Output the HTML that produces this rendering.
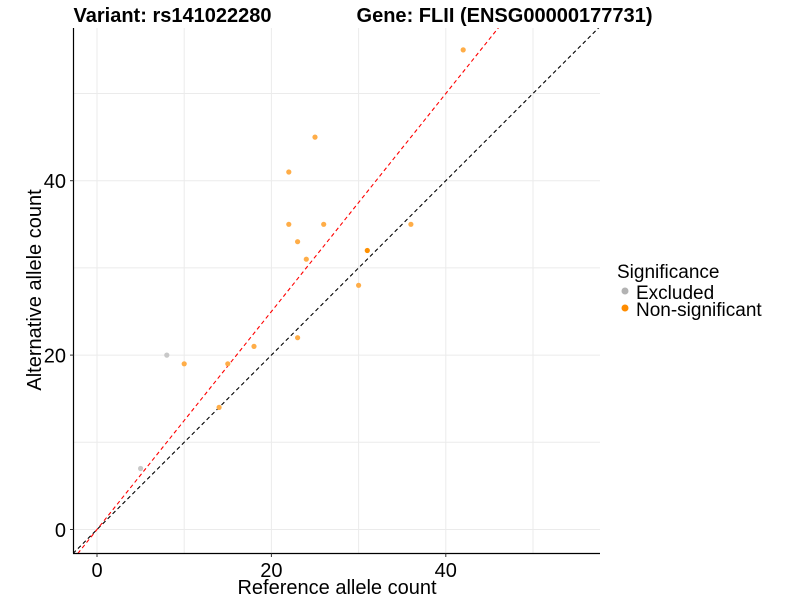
<!DOCTYPE html>
<html><head><meta charset="utf-8"><style>body{margin:0;background:#fff}svg{display:block}text{font-family:"Liberation Sans",Arial,sans-serif}</style></head>
<body>
<svg width="800" height="600" xmlns="http://www.w3.org/2000/svg">
<defs><clipPath id="c"><rect x="73.5" y="28" width="526.5" height="525"/></clipPath></defs>
<g stroke="#ebebeb" stroke-width="1">
<line x1="97" y1="28" x2="97" y2="553"/><line x1="184.2" y1="28" x2="184.2" y2="553"/><line x1="271.4" y1="28" x2="271.4" y2="553"/><line x1="358.6" y1="28" x2="358.6" y2="553"/><line x1="445.8" y1="28" x2="445.8" y2="553"/><line x1="533" y1="28" x2="533" y2="553"/>
<line x1="73.5" y1="529.5" x2="600" y2="529.5"/><line x1="73.5" y1="442.3" x2="600" y2="442.3"/><line x1="73.5" y1="355.1" x2="600" y2="355.1"/><line x1="73.5" y1="267.9" x2="600" y2="267.9"/><line x1="73.5" y1="180.7" x2="600" y2="180.7"/><line x1="73.5" y1="93.5" x2="600" y2="93.5"/>
</g>
<g clip-path="url(#c)">
<line x1="73" y1="553.5" x2="601" y2="25.5" stroke="#000" stroke-width="1.1" stroke-dasharray="4,3"/>
<line x1="77.8" y1="553.5" x2="500" y2="25.8" stroke="#f00" stroke-width="1.1" stroke-dasharray="4,3"/>
<g fill="#ffad47">
<circle cx="463.2" cy="49.9" r="2.6"/><circle cx="315" cy="137.1" r="2.6"/><circle cx="288.8" cy="172" r="2.6"/><circle cx="288.8" cy="224.3" r="2.6"/><circle cx="323.7" cy="224.3" r="2.6"/><circle cx="410.9" cy="224.3" r="2.6"/><circle cx="297.6" cy="241.7" r="2.6"/><circle cx="306.3" cy="259.2" r="2.6"/><circle cx="367.3" cy="250.5" r="2.6" fill="#ff9000"/><circle cx="358.6" cy="285.3" r="2.6"/><circle cx="297.6" cy="337.7" r="2.6"/><circle cx="254" cy="346.4" r="2.6"/><circle cx="184.2" cy="363.8" r="2.6"/><circle cx="227.8" cy="363.8" r="2.6"/><circle cx="219.1" cy="407.4" r="2.6"/>
</g>
<circle cx="166.8" cy="355.1" r="2.6" fill="#c8c8c8"/><circle cx="140.6" cy="468.5" r="2.6" fill="#c8c8c8"/>
</g>
<line x1="73.5" y1="28" x2="73.5" y2="553.5" stroke="#000" stroke-width="1.2"/>
<line x1="73" y1="553.5" x2="600" y2="553.5" stroke="#000" stroke-width="1.2"/>
<g stroke="#333"><line x1="70" y1="529.5" x2="73.5" y2="529.5"/><line x1="70" y1="355.1" x2="73.5" y2="355.1"/><line x1="70" y1="180.7" x2="73.5" y2="180.7"/><line x1="97" y1="553.5" x2="97" y2="557"/><line x1="271.4" y1="553.5" x2="271.4" y2="557"/><line x1="445.8" y1="553.5" x2="445.8" y2="557"/></g>
<g font-size="20" fill="#000">
<text x="66" y="537" text-anchor="end">0</text><text x="66" y="362.5" text-anchor="end">20</text><text x="66" y="188" text-anchor="end">40</text>
<text x="97" y="577" text-anchor="middle">0</text><text x="271.4" y="577" text-anchor="middle">20</text><text x="445.8" y="577" text-anchor="middle">40</text>
<text x="337" y="594" text-anchor="middle">Reference allele count</text>
<text transform="translate(41,290) rotate(-90)" text-anchor="middle">Alternative allele count</text>
<text x="73.5" y="22" font-weight="bold" font-size="20" textLength="198" lengthAdjust="spacingAndGlyphs">Variant: rs141022280</text>
<text x="356.5" y="22" font-weight="bold" font-size="20" textLength="296" lengthAdjust="spacingAndGlyphs">Gene: FLII (ENSG00000177731)</text>
<text x="617" y="278" font-size="19">Significance</text>
<text x="636" y="299" font-size="19">Excluded</text>
<text x="636" y="316" font-size="19">Non-significant</text>
</g>
<circle cx="625" cy="291" r="3.5" fill="#b3b3b3"/><circle cx="625" cy="308" r="3.5" fill="#ff8c00"/>
</svg>
</body></html>
